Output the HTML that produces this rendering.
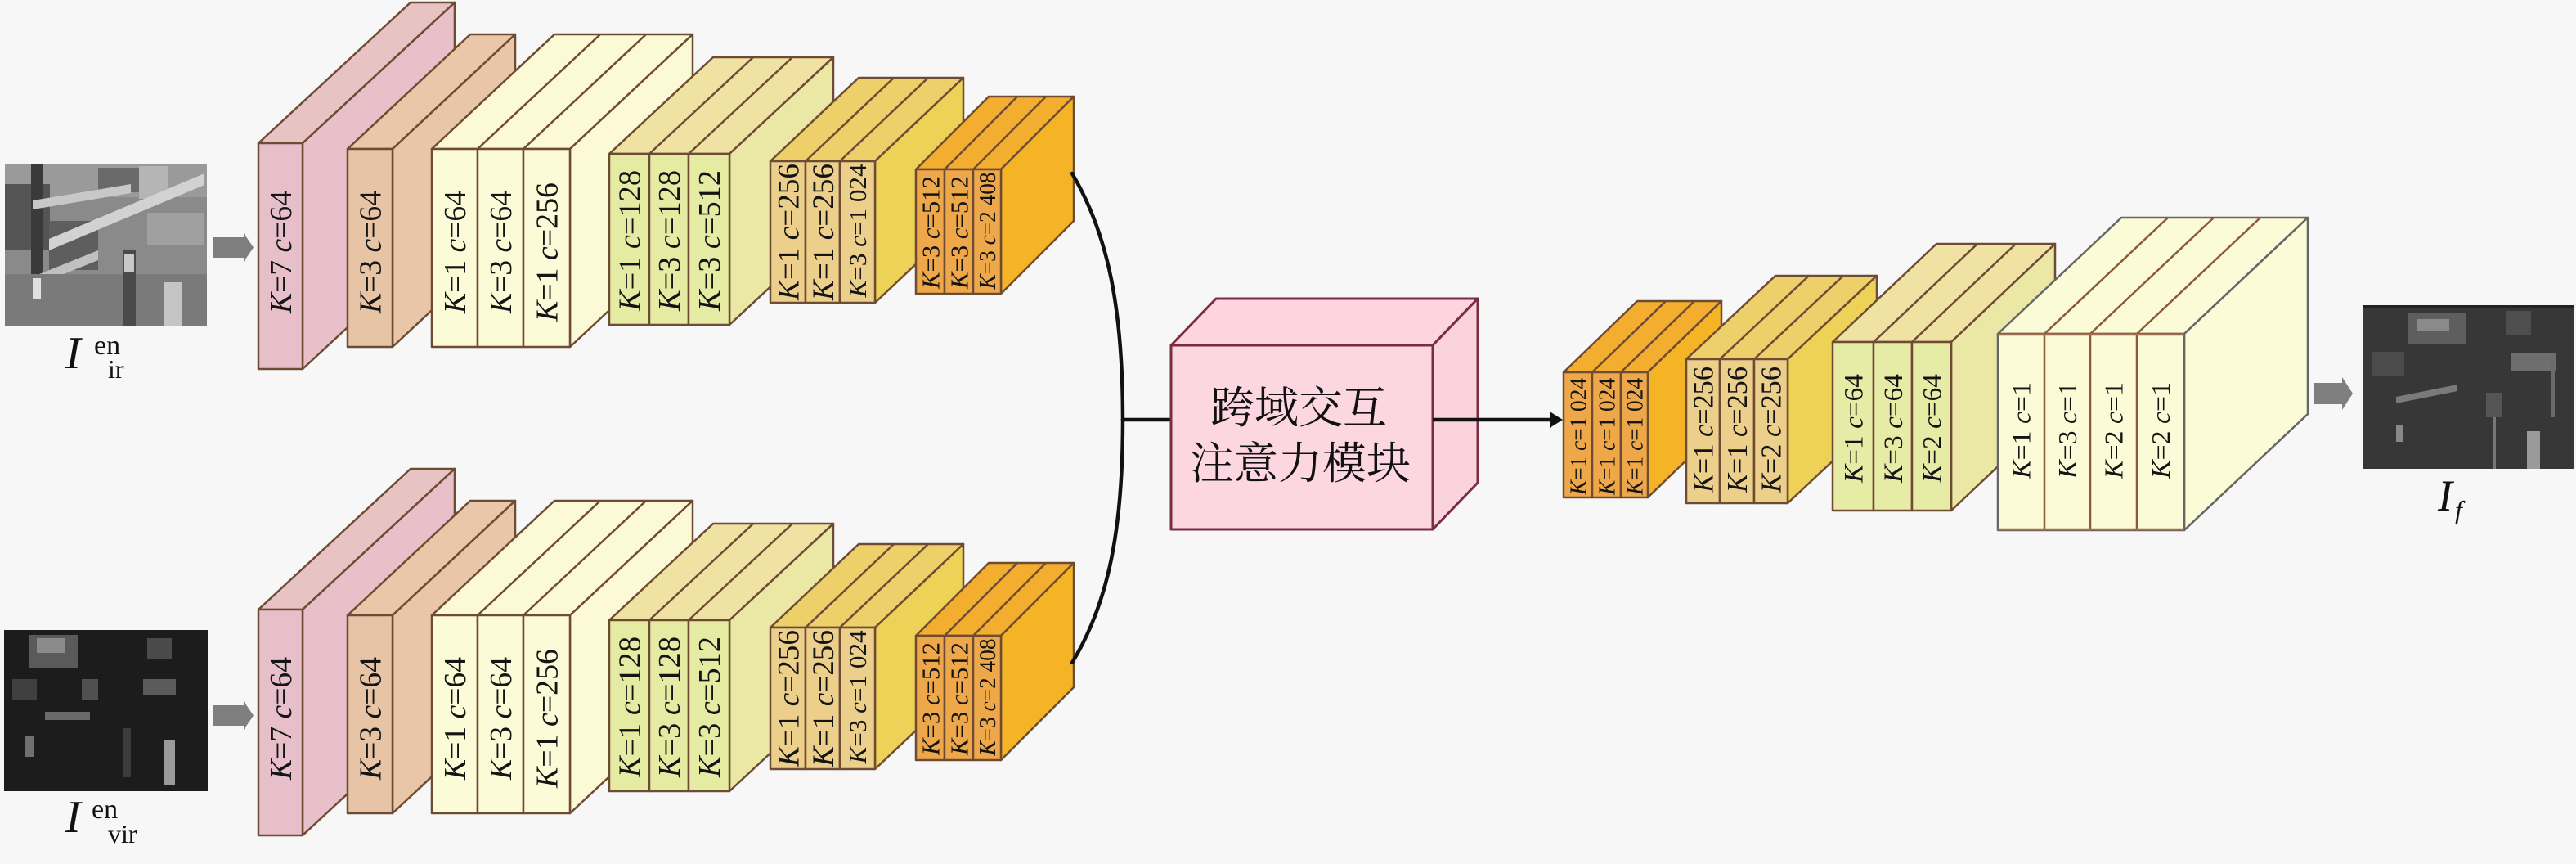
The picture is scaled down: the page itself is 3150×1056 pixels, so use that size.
<!DOCTYPE html>
<html>
<head>
<meta charset="utf-8">
<style>
html,body{margin:0;padding:0;background:#f7f7f7;}
svg{display:block;}
</style>
</head>
<body>
<svg xmlns="http://www.w3.org/2000/svg" width="3150" height="1056" viewBox="0 0 3150 1056" font-family="'Liberation Serif', 'Times New Roman', serif">
<rect x="0" y="0" width="3150" height="1056" fill="#f7f7f7"/>

<!-- ===== IR image ===== -->
<g>
  <rect x="6" y="201" width="247" height="197" fill="#8a8a8a"/>
  <rect x="6" y="201" width="247" height="40" fill="#9a9a9a"/>
  <rect x="6" y="225" width="55" height="80" fill="#545454"/>
  <rect x="38" y="201" width="14" height="160" fill="#3a3a3a"/>
  <rect x="60" y="270" width="60" height="60" fill="#5e5e5e"/>
  <rect x="120" y="205" width="50" height="30" fill="#6a6a6a"/>
  <rect x="170" y="203" width="35" height="40" fill="#b5b5b5"/>
  <polygon points="60,292 250,212 250,226 60,306" fill="#d2d2d2"/>
  <polygon points="6,352 120,306 120,318 6,364" fill="#c0c0c0"/>
  <polygon points="40,245 160,225 160,236 40,256" fill="#c8c8c8"/>
  <rect x="6" y="335" width="247" height="63" fill="#7a7a7a"/>
  <rect x="40" y="340" width="10" height="25" fill="#e0e0e0"/>
  <rect x="150" y="305" width="16" height="93" fill="#4a4a4a"/>
  <rect x="152" y="310" width="12" height="22" fill="#c8c8c8"/>
  <rect x="200" y="345" width="22" height="53" fill="#c5c5c5"/>
  <rect x="180" y="260" width="70" height="40" fill="#a0a0a0"/>
</g>
<polygon points="261,290 298,290 298,285 310,302.5 298,320 298,315 261,315" fill="#7f7f7f"/>
<text x="80" y="450" font-size="56" font-style="italic" fill="#111">I</text>
<text x="115" y="433" font-size="34" fill="#111">en</text>
<text x="132" y="462" font-size="32" fill="#111">ir</text>

<!-- ===== VIR image ===== -->
<g>
  <rect x="5" y="770" width="249" height="197" fill="#1c1c1c"/>
  <rect x="35" y="776" width="60" height="40" fill="#5a5a5a"/>
  <rect x="45" y="780" width="35" height="18" fill="#8a8a8a"/>
  <rect x="15" y="830" width="30" height="25" fill="#404040"/>
  <rect x="55" y="870" width="55" height="10" fill="#6a6a6a"/>
  <rect x="30" y="900" width="12" height="25" fill="#707070"/>
  <rect x="180" y="780" width="30" height="25" fill="#4a4a4a"/>
  <rect x="175" y="830" width="40" height="20" fill="#5a5a5a"/>
  <rect x="150" y="890" width="10" height="60" fill="#3c3c3c"/>
  <rect x="200" y="905" width="14" height="55" fill="#9a9a9a"/>
  <rect x="100" y="830" width="20" height="25" fill="#505050"/>
</g>
<polygon points="261,862 298,862 298,857 310,874.5 298,892 298,887 261,887" fill="#7f7f7f"/>
<text x="80" y="1017" font-size="56" font-style="italic" fill="#111">I</text>
<text x="112" y="1000" font-size="34" fill="#111">en</text>
<text x="132" y="1030" font-size="32" fill="#111">vir</text>

<!-- ===== Upper encoder ===== -->
<g stroke="#6e4b33" stroke-width="2.5" stroke-linejoin="round">
  <!-- A pink -->
  <polygon points="316,175 370,175 556,3 502,3" fill="#e8c3c3"/>
  <polygon points="370,175 556,3 556,279 370,451" fill="#e7c0c9"/>
  <rect x="316" y="175" width="54" height="276" fill="#e7bfcb"/>
  <!-- B peach -->
  <polygon points="425,182 480,182 630,42 575,42" fill="#eac7a9"/>
  <polygon points="480,182 630,42 630,284 480,424" fill="#e9c6a8"/>
  <rect x="425" y="182" width="55" height="242" fill="#e8c4a6"/>
  <!-- C cream -->
  <polygon points="528,182 697,182 847,42 678,42" fill="#fcfad6"/>
  <line x1="584" y1="182" x2="734" y2="42"/>
  <line x1="640" y1="182" x2="790" y2="42"/>
  <polygon points="697,182 847,42 847,284 697,424" fill="#fcfad6"/>
  <rect x="528" y="182" width="56" height="242" fill="#fcfbd7"/>
  <rect x="584" y="182" width="56" height="242" fill="#fcfbd7"/>
  <rect x="640" y="182" width="57" height="242" fill="#fcfbd7"/>
  <!-- D lime -->
  <polygon points="745,188 892,188 1019,70 872,70" fill="#efe2a2"/>
  <line x1="794" y1="188" x2="921" y2="70"/>
  <line x1="842" y1="188" x2="969" y2="70"/>
  <polygon points="892,188 1019,70 1019,279 892,397" fill="#ebe8a5"/>
  <rect x="745" y="188" width="49" height="209" fill="#e5eba3"/>
  <rect x="794" y="188" width="48" height="209" fill="#e5eba3"/>
  <rect x="842" y="188" width="50" height="209" fill="#e5eba3"/>
  <!-- E gold -->
  <polygon points="942,197 1070,197 1178,95 1050,95" fill="#edd06a"/>
  <line x1="985" y1="197" x2="1093" y2="95"/>
  <line x1="1027" y1="197" x2="1135" y2="95"/>
  <polygon points="1070,197 1178,95 1178,268 1070,370" fill="#eed257"/>
  <rect x="942" y="197" width="43" height="173" fill="#eccf8b"/>
  <rect x="985" y="197" width="42" height="173" fill="#eccf8b"/>
  <rect x="1027" y="197" width="43" height="173" fill="#eccf8b"/>
  <!-- F orange -->
  <polygon points="1120,207 1224,207 1313,118 1209,118" fill="#f3ae30"/>
  <line x1="1155" y1="207" x2="1244" y2="118"/>
  <line x1="1190" y1="207" x2="1279" y2="118"/>
  <polygon points="1224,207 1313,118 1313,270 1224,359" fill="#f4b425"/>
  <rect x="1120" y="207" width="35" height="152" fill="#eea84a"/>
  <rect x="1155" y="207" width="35" height="152" fill="#eea84a"/>
  <rect x="1190" y="207" width="34" height="152" fill="#eea84a"/>
</g>
<g fill="#141414" text-anchor="middle" lengthAdjust="spacingAndGlyphs">
  <text transform="translate(343 308) rotate(-90)" y="13" font-size="38" textLength="150" lengthAdjust="spacingAndGlyphs"><tspan font-style="italic">K</tspan>=7 <tspan font-style="italic">c</tspan>=64</text>
  <text transform="translate(452.5 308) rotate(-90)" y="13" font-size="38" textLength="150" lengthAdjust="spacingAndGlyphs"><tspan font-style="italic">K</tspan>=3 <tspan font-style="italic">c</tspan>=64</text>
  <text transform="translate(556 308) rotate(-90)" y="13" font-size="38" textLength="150" lengthAdjust="spacingAndGlyphs"><tspan font-style="italic">K</tspan>=1 <tspan font-style="italic">c</tspan>=64</text>
  <text transform="translate(612 308) rotate(-90)" y="13" font-size="38" textLength="150" lengthAdjust="spacingAndGlyphs"><tspan font-style="italic">K</tspan>=3 <tspan font-style="italic">c</tspan>=64</text>
  <text transform="translate(668.5 308) rotate(-90)" y="13" font-size="38" textLength="170" lengthAdjust="spacingAndGlyphs"><tspan font-style="italic">K</tspan>=1 <tspan font-style="italic">c</tspan>=256</text>
  <text transform="translate(769.5 294) rotate(-90)" y="13" font-size="38" textLength="172" lengthAdjust="spacingAndGlyphs"><tspan font-style="italic">K</tspan>=1 <tspan font-style="italic">c</tspan>=128</text>
  <text transform="translate(818 294) rotate(-90)" y="13" font-size="38" textLength="172" lengthAdjust="spacingAndGlyphs"><tspan font-style="italic">K</tspan>=3 <tspan font-style="italic">c</tspan>=128</text>
  <text transform="translate(867 294) rotate(-90)" y="13" font-size="38" textLength="172" lengthAdjust="spacingAndGlyphs"><tspan font-style="italic">K</tspan>=3 <tspan font-style="italic">c</tspan>=512</text>
  <text transform="translate(963.5 283.5) rotate(-90)" y="13" font-size="37" textLength="167" lengthAdjust="spacingAndGlyphs"><tspan font-style="italic">K</tspan>=1 <tspan font-style="italic">c</tspan>=256</text>
  <text transform="translate(1006 283.5) rotate(-90)" y="13" font-size="37" textLength="167" lengthAdjust="spacingAndGlyphs"><tspan font-style="italic">K</tspan>=1 <tspan font-style="italic">c</tspan>=256</text>
  <text transform="translate(1048.5 282) rotate(-90)" y="10.5" font-size="30" textLength="163" lengthAdjust="spacingAndGlyphs"><tspan font-style="italic">K</tspan>=3 <tspan font-style="italic">c</tspan>=1 024</text>
  <text transform="translate(1137.5 284) rotate(-90)" y="11" font-size="31" textLength="138" lengthAdjust="spacingAndGlyphs"><tspan font-style="italic">K</tspan>=3 <tspan font-style="italic">c</tspan>=512</text>
  <text transform="translate(1172.5 284) rotate(-90)" y="11" font-size="31" textLength="138" lengthAdjust="spacingAndGlyphs"><tspan font-style="italic">K</tspan>=3 <tspan font-style="italic">c</tspan>=512</text>
  <text transform="translate(1207 282) rotate(-90)" y="10" font-size="28" textLength="143" lengthAdjust="spacingAndGlyphs"><tspan font-style="italic">K</tspan>=3 <tspan font-style="italic">c</tspan>=2 408</text>
</g>

<!-- ===== Lower encoder (shifted +570) ===== -->
<g transform="translate(0 570)">
<g stroke="#6e4b33" stroke-width="2.5" stroke-linejoin="round">
  <polygon points="316,175 370,175 556,3 502,3" fill="#e8c3c3"/>
  <polygon points="370,175 556,3 556,279 370,451" fill="#e7c0c9"/>
  <rect x="316" y="175" width="54" height="276" fill="#e7bfcb"/>
  <polygon points="425,182 480,182 630,42 575,42" fill="#eac7a9"/>
  <polygon points="480,182 630,42 630,284 480,424" fill="#e9c6a8"/>
  <rect x="425" y="182" width="55" height="242" fill="#e8c4a6"/>
  <polygon points="528,182 697,182 847,42 678,42" fill="#fcfad6"/>
  <line x1="584" y1="182" x2="734" y2="42"/>
  <line x1="640" y1="182" x2="790" y2="42"/>
  <polygon points="697,182 847,42 847,284 697,424" fill="#fcfad6"/>
  <rect x="528" y="182" width="56" height="242" fill="#fcfbd7"/>
  <rect x="584" y="182" width="56" height="242" fill="#fcfbd7"/>
  <rect x="640" y="182" width="57" height="242" fill="#fcfbd7"/>
  <polygon points="745,188 892,188 1019,70 872,70" fill="#efe2a2"/>
  <line x1="794" y1="188" x2="921" y2="70"/>
  <line x1="842" y1="188" x2="969" y2="70"/>
  <polygon points="892,188 1019,70 1019,279 892,397" fill="#ebe8a5"/>
  <rect x="745" y="188" width="49" height="209" fill="#e5eba3"/>
  <rect x="794" y="188" width="48" height="209" fill="#e5eba3"/>
  <rect x="842" y="188" width="50" height="209" fill="#e5eba3"/>
  <polygon points="942,197 1070,197 1178,95 1050,95" fill="#edd06a"/>
  <line x1="985" y1="197" x2="1093" y2="95"/>
  <line x1="1027" y1="197" x2="1135" y2="95"/>
  <polygon points="1070,197 1178,95 1178,268 1070,370" fill="#eed257"/>
  <rect x="942" y="197" width="43" height="173" fill="#eccf8b"/>
  <rect x="985" y="197" width="42" height="173" fill="#eccf8b"/>
  <rect x="1027" y="197" width="43" height="173" fill="#eccf8b"/>
  <polygon points="1120,207 1224,207 1313,118 1209,118" fill="#f3ae30"/>
  <line x1="1155" y1="207" x2="1244" y2="118"/>
  <line x1="1190" y1="207" x2="1279" y2="118"/>
  <polygon points="1224,207 1313,118 1313,270 1224,359" fill="#f4b425"/>
  <rect x="1120" y="207" width="35" height="152" fill="#eea84a"/>
  <rect x="1155" y="207" width="35" height="152" fill="#eea84a"/>
  <rect x="1190" y="207" width="34" height="152" fill="#eea84a"/>
</g>
<g fill="#141414" text-anchor="middle">
  <text transform="translate(343 308) rotate(-90)" y="13" font-size="38" textLength="150" lengthAdjust="spacingAndGlyphs"><tspan font-style="italic">K</tspan>=7 <tspan font-style="italic">c</tspan>=64</text>
  <text transform="translate(452.5 308) rotate(-90)" y="13" font-size="38" textLength="150" lengthAdjust="spacingAndGlyphs"><tspan font-style="italic">K</tspan>=3 <tspan font-style="italic">c</tspan>=64</text>
  <text transform="translate(556 308) rotate(-90)" y="13" font-size="38" textLength="150" lengthAdjust="spacingAndGlyphs"><tspan font-style="italic">K</tspan>=1 <tspan font-style="italic">c</tspan>=64</text>
  <text transform="translate(612 308) rotate(-90)" y="13" font-size="38" textLength="150" lengthAdjust="spacingAndGlyphs"><tspan font-style="italic">K</tspan>=3 <tspan font-style="italic">c</tspan>=64</text>
  <text transform="translate(668.5 308) rotate(-90)" y="13" font-size="38" textLength="170" lengthAdjust="spacingAndGlyphs"><tspan font-style="italic">K</tspan>=1 <tspan font-style="italic">c</tspan>=256</text>
  <text transform="translate(769.5 294) rotate(-90)" y="13" font-size="38" textLength="172" lengthAdjust="spacingAndGlyphs"><tspan font-style="italic">K</tspan>=1 <tspan font-style="italic">c</tspan>=128</text>
  <text transform="translate(818 294) rotate(-90)" y="13" font-size="38" textLength="172" lengthAdjust="spacingAndGlyphs"><tspan font-style="italic">K</tspan>=3 <tspan font-style="italic">c</tspan>=128</text>
  <text transform="translate(867 294) rotate(-90)" y="13" font-size="38" textLength="172" lengthAdjust="spacingAndGlyphs"><tspan font-style="italic">K</tspan>=3 <tspan font-style="italic">c</tspan>=512</text>
  <text transform="translate(963.5 283.5) rotate(-90)" y="13" font-size="37" textLength="167" lengthAdjust="spacingAndGlyphs"><tspan font-style="italic">K</tspan>=1 <tspan font-style="italic">c</tspan>=256</text>
  <text transform="translate(1006 283.5) rotate(-90)" y="13" font-size="37" textLength="167" lengthAdjust="spacingAndGlyphs"><tspan font-style="italic">K</tspan>=1 <tspan font-style="italic">c</tspan>=256</text>
  <text transform="translate(1048.5 282) rotate(-90)" y="10.5" font-size="30" textLength="163" lengthAdjust="spacingAndGlyphs"><tspan font-style="italic">K</tspan>=3 <tspan font-style="italic">c</tspan>=1 024</text>
  <text transform="translate(1137.5 284) rotate(-90)" y="11" font-size="31" textLength="138" lengthAdjust="spacingAndGlyphs"><tspan font-style="italic">K</tspan>=3 <tspan font-style="italic">c</tspan>=512</text>
  <text transform="translate(1172.5 284) rotate(-90)" y="11" font-size="31" textLength="138" lengthAdjust="spacingAndGlyphs"><tspan font-style="italic">K</tspan>=3 <tspan font-style="italic">c</tspan>=512</text>
  <text transform="translate(1207 282) rotate(-90)" y="10" font-size="28" textLength="143" lengthAdjust="spacingAndGlyphs"><tspan font-style="italic">K</tspan>=3 <tspan font-style="italic">c</tspan>=2 408</text>
</g>
</g>

<!-- ===== Junction curves ===== -->
<g fill="none" stroke="#111" stroke-width="4.5" stroke-linecap="round">
  <path d="M1311,212 C1356,288 1373,380 1373,513"/>
  <path d="M1373,513 C1373,646 1356,736 1311,810"/>
  <path d="M1373,513 H1432"/>
</g>

<!-- ===== Cross-domain module box ===== -->
<g stroke="#7b2c44" stroke-width="3" stroke-linejoin="round">
  <polygon points="1432,422 1752,422 1807,365 1487,365" fill="#fcd5df"/>
  <polygon points="1752,422 1807,365 1807,590 1752,647" fill="#fbd3dd"/>
  <rect x="1432" y="422" width="320" height="225" fill="#fcd6e0"/>
</g>
<g font-family="'Liberation Serif', 'Noto Serif CJK SC', 'Noto Sans CJK SC', serif" font-size="54" fill="#111" text-anchor="middle">
  <text x="1588" y="517">跨域交互</text>
  <text x="1590" y="585">注意力模块</text>
</g>
<line x1="1752" y1="513" x2="1898" y2="513" stroke="#111" stroke-width="4.5"/>
<polygon points="1895,503 1911,513 1895,523" fill="#111"/>

<!-- ===== Decoder ===== -->
<g stroke="#6e4b33" stroke-width="2.5" stroke-linejoin="round">
  <!-- G orange -->
  <polygon points="1912,455 2015,455 2105,368 2002,368" fill="#f3ae30"/>
  <line x1="1947" y1="455" x2="2037" y2="368"/>
  <line x1="1982" y1="455" x2="2072" y2="368"/>
  <polygon points="2015,455 2105,368 2105,521 2015,608" fill="#f4b425"/>
  <rect x="1912" y="455" width="35" height="153" fill="#eea84a"/>
  <rect x="1947" y="455" width="35" height="153" fill="#eea84a"/>
  <rect x="1982" y="455" width="33" height="153" fill="#eea84a"/>
  <!-- H gold -->
  <polygon points="2062,439 2186,439 2295,337 2171,337" fill="#edd06a"/>
  <line x1="2103" y1="439" x2="2212" y2="337"/>
  <line x1="2145" y1="439" x2="2254" y2="337"/>
  <polygon points="2186,439 2295,337 2295,513 2186,615" fill="#eed257"/>
  <rect x="2062" y="439" width="41" height="176" fill="#eccf8b"/>
  <rect x="2103" y="439" width="42" height="176" fill="#eccf8b"/>
  <rect x="2145" y="439" width="41" height="176" fill="#eccf8b"/>
  <!-- I lime -->
  <polygon points="2241,418 2386,418 2513,298 2368,298" fill="#efe2a2"/>
  <line x1="2291" y1="418" x2="2418" y2="298"/>
  <line x1="2338" y1="418" x2="2465" y2="298"/>
  <polygon points="2386,418 2513,298 2513,504 2386,624" fill="#ebe8a5"/>
  <rect x="2241" y="418" width="50" height="206" fill="#e6eba6"/>
  <rect x="2291" y="418" width="47" height="206" fill="#e6eba6"/>
  <rect x="2338" y="418" width="48" height="206" fill="#e6eba6"/>
</g>
<g stroke-width="2.5" stroke-linejoin="round">
  <!-- J cream -->
  <polygon points="2443,408 2671,408 2822,266 2594,266" fill="#fcfbd8" stroke="#666"/>
  <line x1="2500" y1="408" x2="2651" y2="266" stroke="#8a5a3a"/>
  <line x1="2556" y1="408" x2="2707" y2="266" stroke="#8a5a3a"/>
  <line x1="2613" y1="408" x2="2764" y2="266" stroke="#8a5a3a"/>
  <polygon points="2671,408 2822,266 2822,506 2671,648" fill="#fcfbd8" stroke="#666"/>
  <rect x="2443" y="408" width="228" height="240" fill="#fcfbd8" stroke="#666"/>
  <line x1="2500" y1="408" x2="2500" y2="648" stroke="#8a5a3a"/>
  <line x1="2556" y1="408" x2="2556" y2="648" stroke="#8a5a3a"/>
  <line x1="2613" y1="408" x2="2613" y2="648" stroke="#8a5a3a"/>
  <line x1="2443" y1="409" x2="2671" y2="409" stroke="#a8704a"/>
  <line x1="2443" y1="647" x2="2671" y2="647" stroke="#a8704a"/>
</g>
<g fill="#141414" text-anchor="middle">
  <text transform="translate(1929.5 533.5) rotate(-90)" y="10" font-size="28" textLength="143" lengthAdjust="spacingAndGlyphs"><tspan font-style="italic">K</tspan>=1 <tspan font-style="italic">c</tspan>=1 024</text>
  <text transform="translate(1964.5 533.5) rotate(-90)" y="10" font-size="28" textLength="143" lengthAdjust="spacingAndGlyphs"><tspan font-style="italic">K</tspan>=1 <tspan font-style="italic">c</tspan>=1 024</text>
  <text transform="translate(1998.5 533.5) rotate(-90)" y="10" font-size="28" textLength="143" lengthAdjust="spacingAndGlyphs"><tspan font-style="italic">K</tspan>=1 <tspan font-style="italic">c</tspan>=1 024</text>
  <text transform="translate(2082.5 525) rotate(-90)" y="12" font-size="35" textLength="154" lengthAdjust="spacingAndGlyphs"><tspan font-style="italic">K</tspan>=1 <tspan font-style="italic">c</tspan>=256</text>
  <text transform="translate(2124 525) rotate(-90)" y="12" font-size="35" textLength="154" lengthAdjust="spacingAndGlyphs"><tspan font-style="italic">K</tspan>=1 <tspan font-style="italic">c</tspan>=256</text>
  <text transform="translate(2165.5 525) rotate(-90)" y="12" font-size="35" textLength="154" lengthAdjust="spacingAndGlyphs"><tspan font-style="italic">K</tspan>=2 <tspan font-style="italic">c</tspan>=256</text>
  <text transform="translate(2266 523.5) rotate(-90)" y="11.5" font-size="33" textLength="133" lengthAdjust="spacingAndGlyphs"><tspan font-style="italic">K</tspan>=1 <tspan font-style="italic">c</tspan>=64</text>
  <text transform="translate(2314.5 523.5) rotate(-90)" y="11.5" font-size="33" textLength="133" lengthAdjust="spacingAndGlyphs"><tspan font-style="italic">K</tspan>=3 <tspan font-style="italic">c</tspan>=64</text>
  <text transform="translate(2362 523.5) rotate(-90)" y="11.5" font-size="33" textLength="133" lengthAdjust="spacingAndGlyphs"><tspan font-style="italic">K</tspan>=2 <tspan font-style="italic">c</tspan>=64</text>
  <text transform="translate(2471.5 526) rotate(-90)" y="11" font-size="32" textLength="118" lengthAdjust="spacingAndGlyphs"><tspan font-style="italic">K</tspan>=1 <tspan font-style="italic">c</tspan>=1</text>
  <text transform="translate(2528 526) rotate(-90)" y="11" font-size="32" textLength="118" lengthAdjust="spacingAndGlyphs"><tspan font-style="italic">K</tspan>=3 <tspan font-style="italic">c</tspan>=1</text>
  <text transform="translate(2584.5 526) rotate(-90)" y="11" font-size="32" textLength="118" lengthAdjust="spacingAndGlyphs"><tspan font-style="italic">K</tspan>=2 <tspan font-style="italic">c</tspan>=1</text>
  <text transform="translate(2642 526) rotate(-90)" y="11" font-size="32" textLength="118" lengthAdjust="spacingAndGlyphs"><tspan font-style="italic">K</tspan>=2 <tspan font-style="italic">c</tspan>=1</text>
</g>

<!-- ===== Output arrow and fused image ===== -->
<polygon points="2830,468 2864,468 2864,461 2877,481 2864,501 2864,494 2830,494" fill="#7f7f7f"/>
<g>
  <rect x="2890" y="373" width="257" height="200" fill="#373737"/>
  <rect x="2890" y="373" width="257" height="3" fill="#222"/>
  <rect x="2945" y="382" width="70" height="38" fill="#5e5e5e"/>
  <rect x="2955" y="390" width="40" height="15" fill="#8a8a8a"/>
  <rect x="2900" y="430" width="40" height="30" fill="#4c4c4c"/>
  <polygon points="2930,485 3005,470 3005,478 2930,493" fill="#7a7a7a"/>
  <rect x="3070" y="432" width="55" height="22" fill="#6e6e6e"/>
  <rect x="3120" y="440" width="4" height="70" fill="#6a6a6a"/>
  <rect x="3040" y="480" width="20" height="30" fill="#555"/>
  <rect x="3048" y="510" width="4" height="63" fill="#777"/>
  <rect x="3090" y="527" width="16" height="46" fill="#9a9a9a"/>
  <rect x="2930" y="520" width="8" height="20" fill="#888"/>
  <rect x="3065" y="380" width="30" height="30" fill="#4e4e4e"/>
</g>
<text x="2981" y="624" font-size="54" font-style="italic" fill="#111">I</text>
<text x="3002" y="634" font-size="32" font-style="italic" fill="#111">f</text>
</svg>
</body>
</html>
